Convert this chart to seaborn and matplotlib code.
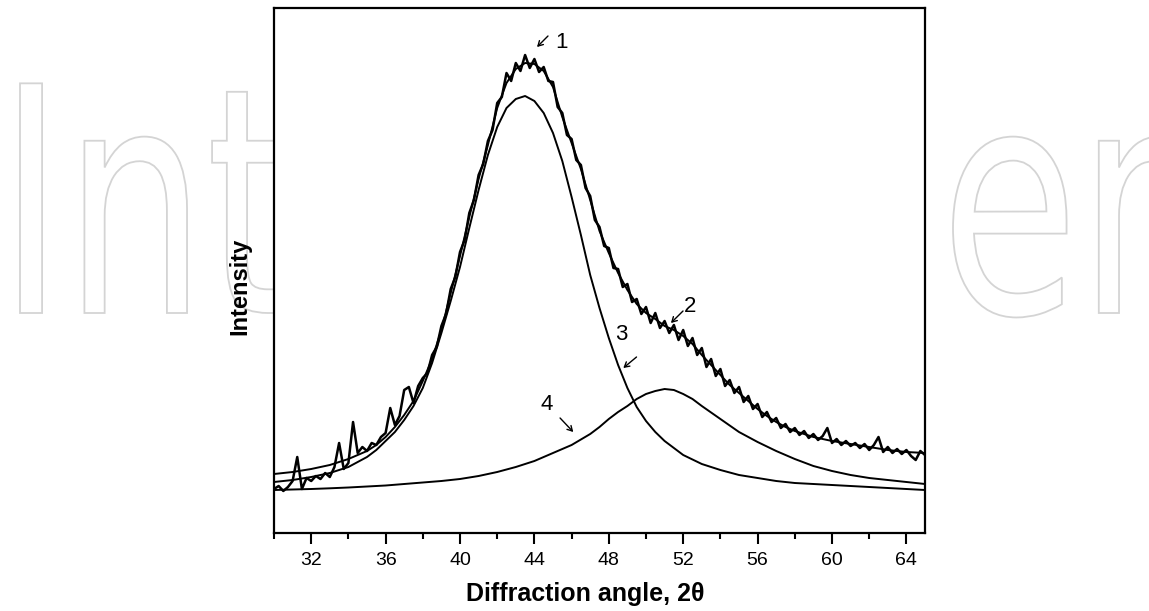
import numpy as np
import pandas as pd
import seaborn as sns
import matplotlib.pyplot as plt
from matplotlib.ticker import MultipleLocator
from matplotlib.textpath import TextPath
from matplotlib.font_manager import FontProperties
from matplotlib.patches import PathPatch
from matplotlib.transforms import Affine2D

# 1. measured pattern (curve 1), 2theta step 0.25 from 30 to 65
theta_meas = np.linspace(30, 65, 141)
meas = [44, 47, 42, 46,  52, 76, 44, 55,  52, 57, 54, 60,  56, 66, 90, 64,
        70, 111, 80, 86,  82, 90, 88, 96,  100, 125, 108, 117,  143, 146, 130, 147,
        155, 160, 178, 186,  207, 219, 244, 256,  281, 293, 320, 333,  358, 369, 392, 403,
        430, 436, 460, 452,  470, 462, 478, 465,  474, 461, 466, 452,  451, 426, 420, 398,
        394, 373, 368, 345,  337, 313, 306, 287,  285, 265, 264, 246,  249, 231, 234, 219,
        226, 210, 220, 205,  212, 200, 208, 193,  203, 187, 195, 178,  185, 166, 174, 157,
        164, 147, 153, 140,  146, 131, 137, 124,  129, 116, 121, 111,  115, 105, 109, 101,
        105, 98, 102, 95,  99, 93, 97, 105,  90, 94, 88, 92,  87, 90, 85, 89,
        83, 88, 96, 81,  86, 80, 84, 79,  83, 77, 73, 82,  78]

# 2. fitted sum, step 0.5
theta_fit = np.linspace(30, 65, 71)
fit = [59, 60, 61, 62.5, 64, 66, 68, 71, 74, 78, 82, 88, 96, 106, 118, 132,
       152, 174, 203, 240, 277, 316, 354, 388, 425, 450, 464, 470, 469, 462,
       446, 416, 390, 364, 333, 302, 280, 260, 243, 229, 220, 214, 207, 203,
       197, 189, 178, 168, 158, 148, 140, 132, 124, 117, 111, 106, 102, 99,
       96, 94, 92, 90.5, 89, 87.5, 86, 84.5, 83, 82, 81, 80.5, 80]

# 3. main component
theta_p3 = [30, 31, 32, 33, 34, 35, 35.5, 36, 36.5, 37, 37.5, 38, 38.5, 39, 39.5, 40,
            40.5, 41, 41.5, 42, 42.5, 43, 43.5, 44, 44.5, 45, 45.5, 46, 46.5, 47, 47.5,
            48, 48.5, 49, 49.5, 50, 50.5, 51, 52, 53, 54, 55, 56, 57, 58, 59, 60, 62, 64, 65]
peak3 = [51, 53, 56, 60, 66, 76, 83, 92, 101, 113, 127, 145, 170, 200, 232, 266,
         305, 343, 378, 406, 425, 434, 437, 432, 420, 400, 372, 336, 298, 258, 225,
         195, 168, 145, 126, 112, 101, 92, 78, 69, 63, 58, 55, 52, 50, 49, 48, 46, 44, 43]

# 4. second component
theta_p4 = [30, 31, 32, 33, 34, 35, 36, 37, 38, 39, 40, 41, 42, 43, 44, 45, 46, 47,
            47.5, 48, 48.5, 49, 49.5, 50, 50.5, 51, 51.5, 52, 52.5, 53, 54, 55, 56,
            57, 58, 59, 60, 61, 62, 63, 64, 65]
peak4 = [43, 43.5, 44, 44.7, 45.5, 46.5, 47.5, 49, 50.5, 52, 54, 57, 61, 66, 72,
         80, 88, 99, 106, 114, 121, 127, 134, 139, 142, 144, 143, 139, 134, 127,
         114, 101, 91, 82, 74, 67, 62, 58, 55, 53, 51, 49]

x_ticks = [32, 36, 40, 44, 48, 52, 56, 60, 64]

sns.set_style("ticks")
plt.rcParams['font.family'] = ['Liberation Sans', 'DejaVu Sans']
plt.rcParams['text.color'] = 'black'
plt.rcParams['axes.labelcolor'] = 'black'
plt.rcParams['xtick.color'] = 'black'

W, H = 1149, 611
fig = plt.figure(figsize=(W / 100, H / 100), dpi=100)

# watermark behind the axes: only the outer letters show
fp = FontProperties(family='DejaVu Sans')
for word, left in [("Int", 20), ("en", 953)]:
    tp = TextPath((0, 0), word, size=1, prop=fp)
    ext = tp.get_extents()
    sx, sy = 224, 315
    wm = PathPatch(tp, transform=Affine2D().scale(sx, sy).translate(left - ext.x0 * sx, H - 313),
                   facecolor='white', edgecolor='#d4d4d4', lw=1.3, zorder=-1)
    fig.add_artist(wm)

ax = fig.add_axes([274 / W, 1 - 533 / H, 651 / W, 525 / H])
ax.set_facecolor('white')

sns.lineplot(x=theta_p4, y=peak4, ax=ax, color='black', lw=1.4)
sns.lineplot(x=theta_p3, y=peak3, ax=ax, color='black', lw=1.4)
sns.lineplot(x=theta_fit, y=fit, ax=ax, color='black', lw=1.4)
sns.lineplot(x=theta_meas, y=meas, ax=ax, color='black', lw=1.8)

ax.set_xlim(30, 65)
ax.set_ylim(0, 525)
ax.set_xticks(x_ticks)
ax.xaxis.set_minor_locator(MultipleLocator(2))
ax.set_yticks([])
ax.tick_params(axis='x', which='major', length=8, width=1.5, direction='out',
               labelsize=14, pad=6, colors='black')
ax.tick_params(axis='x', which='minor', length=4.5, width=1.5, direction='out')
for s in ax.spines.values():
    s.set_linewidth(1.6)
    s.set_color('black')

ax.set_xlabel("Diffraction angle, 2θ", fontsize=18, fontweight='bold')
ax.set_ylabel("Intensity", fontsize=17, fontweight='bold')
ax.xaxis.set_label_coords(0.478, -0.093)
ax.yaxis.set_label_coords(-0.035, 0.47)

# curve labels with small arrows
labels = [("1", 45.46, 491, (44.73, 497), (44.14, 486)),
          ("2", 52.37, 226, (51.99, 222), (51.34, 210)),
          ("3", 48.69, 198, (49.49, 176), (48.78, 165)),
          ("4", 44.66, 128, (45.38, 115), (46.09, 101))]
for txt, lx, ly, tail, head in labels:
    ax.text(lx, ly, txt, fontsize=16, ha='center', va='center', color='black')
    ax.annotate('', xy=head, xytext=tail,
                arrowprops=dict(arrowstyle='->,head_length=0.35,head_width=0.2',
                                lw=1.0, color='black', shrinkA=0, shrinkB=0))

fig.savefig("out.png", dpi=100)
